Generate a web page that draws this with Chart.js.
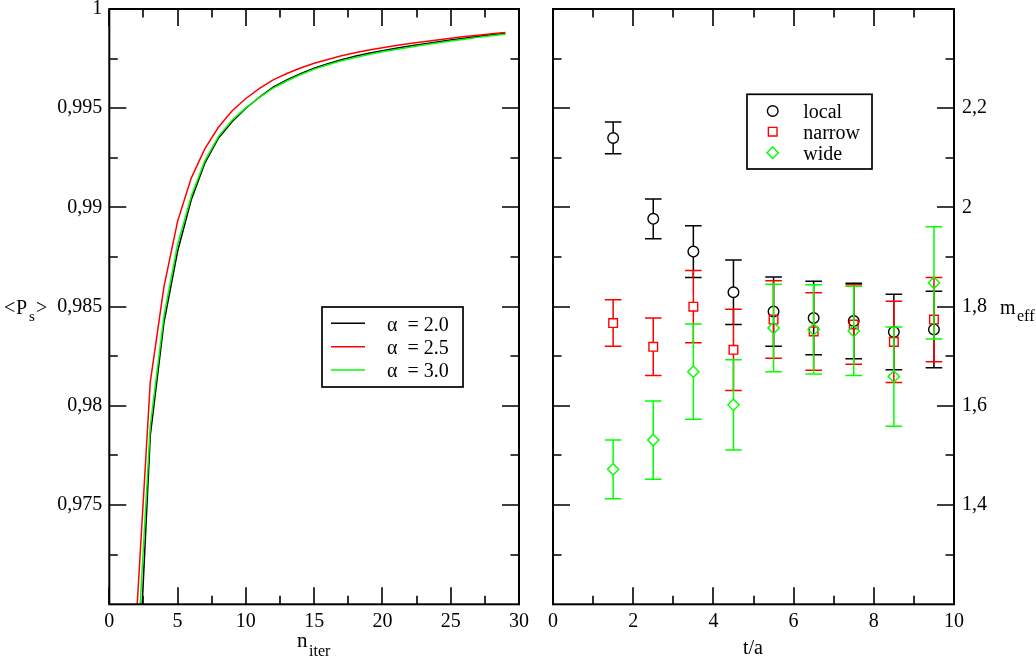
<!DOCTYPE html>
<html><head><meta charset="utf-8">
<script src="https://cdn.jsdelivr.net/npm/chart.js@4.4.1/dist/chart.umd.min.js"></script>
<style>
html,body{margin:0;padding:0;background:#fff;}
#wrap{position:relative;width:1036px;height:659px;background:#fff;}
canvas{position:absolute;left:0;top:0;}
</style></head><body>
<div id="wrap"><canvas id="c1" width="1036" height="659"></canvas><canvas id="c2" width="1036" height="659"></canvas></div>
<script>
// ---------- Left panel data ----------
const nIter   = [2,3,4,5,6,7,8,9,10,11,12,13,14,15,16,17,18,19,20,21,22,23,24,25,26,27,28,29];
const alpha20 = [0.9641,0.9785,0.98419,0.98779,0.99039,0.99224,0.99350,0.99433,0.99500,0.99556,0.99606,0.99642,0.99674,0.99702,0.99724,0.99744,0.99762,0.99777,0.99790,0.99802,0.99813,0.99824,0.99834,0.99844,0.99853,0.99862,0.99870,0.99878];
const alpha25 = [0.9695,0.9812,0.98600,0.98930,0.99148,0.99296,0.99405,0.99487,0.99549,0.99600,0.99643,0.99675,0.99703,0.99727,0.99746,0.99764,0.99779,0.99793,0.99805,0.99816,0.99826,0.99835,0.99844,0.99853,0.99861,0.99868,0.99875,0.99881];
const alpha30 = [0.9668,0.9790,0.98452,0.98813,0.99056,0.99236,0.99358,0.99441,0.99503,0.99555,0.99601,0.99637,0.99669,0.99697,0.99719,0.99739,0.99756,0.99771,0.99784,0.99796,0.99807,0.99818,0.99829,0.99839,0.99848,0.99857,0.99865,0.99873];
const alphaLabels = ['\u03B1  = 2.0','\u03B1  = 2.5','\u03B1  = 3.0'];

// ---------- Right panel data ----------
const tA        = [1.5,2.5,3.5,4.5,5.5,6.5,7.5,8.5,9.5];
const local     = [2.140,1.977,1.911,1.829,1.790,1.777,1.771,1.749,1.754];
const localErr  = [0.032,0.040,0.052,0.065,0.070,0.074,0.076,0.076,0.077];
const narrow    = [1.767,1.719,1.800,1.713,1.774,1.750,1.764,1.729,1.774];
const narrowErr = [0.047,0.058,0.073,0.082,0.078,0.078,0.080,0.082,0.085];
const wide      = [1.472,1.531,1.669,1.602,1.757,1.754,1.751,1.659,1.848];
const wideErr   = [0.059,0.079,0.096,0.091,0.088,0.090,0.090,0.100,0.113];
const smearLabels = ['local','narrow','wide'];

// ---------- Tick values ----------
const nTicks = [0,5,10,15,20,25,30];
const nMinor = [2.5,7.5,12.5,17.5,22.5,27.5];
const pTicks = [0.975,0.98,0.985,0.99,0.995,1];
const pMinor = [0.9725,0.9775,0.9825,0.9875,0.9925,0.9975];
const tTicks = [0,2,4,6,8,10];
const tMinor = [1,3,5,7,9];
const mTicks = [1.4,1.6,1.8,2.0,2.2];
const mMinor = [1.3,1.5,1.7,1.9,2.1,2.3];

const FONT = 'Liberation Serif';
Chart.defaults.font.family = FONT;
Chart.defaults.font.size = 20;
Chart.defaults.color = '#000';

const fmt = v => String(+(+v).toFixed(4)).replace('.', ',');
const pts = (xs, ys) => xs.map((x, i) => ({x, y: ys[i]}));

// frame + inward ticks
const framePlugin = {
  id: 'frame',
  afterDraw(chart, args, o) {
    const {ctx, chartArea: a, scales} = chart;
    const xs = scales.x, ys = scales.y;
    ctx.save();
    ctx.strokeStyle = '#000';
    ctx.lineWidth = 1.6;
    ctx.beginPath();
    [[o.xMajor, 17], [o.xMinor, 8.5]].forEach(([vals, len]) => vals.forEach(v => {
      const p = Math.round(xs.getPixelForValue(v));
      ctx.moveTo(p, a.bottom); ctx.lineTo(p, a.bottom - len);
      ctx.moveTo(p, a.top); ctx.lineTo(p, a.top + len);
    }));
    [[o.yMajor, 17], [o.yMinor, 8.5]].forEach(([vals, len]) => vals.forEach(v => {
      const p = Math.round(ys.getPixelForValue(v));
      ctx.moveTo(a.left, p); ctx.lineTo(a.left + len, p);
      ctx.moveTo(a.right, p); ctx.lineTo(a.right - len, p);
    }));
    ctx.stroke();
    ctx.lineWidth = 2;
    ctx.strokeRect(a.left, a.top, a.width, a.height);
    ctx.restore();
  }
};

// error bars (drawn before each dataset's markers)
const errPlugin = {
  id: 'errbars',
  beforeDatasetDraw(chart, args) {
    const ds = chart.data.datasets[args.index];
    if (!ds.errors) return;
    const {ctx, scales} = chart;
    const xs = scales.x, ys = scales.y;
    const gap = ds.pointStyle === 'rect' ? ds.pointRadius * Math.SQRT1_2 : ds.pointRadius;
    ctx.save();
    ctx.strokeStyle = ds.borderColor;
    ctx.lineWidth = 1.5;
    ctx.beginPath();
    ds.data.forEach((d, i) => {
      const e = ds.errors[i];
      const x = xs.getPixelForValue(d.x);
      const y = ys.getPixelForValue(d.y);
      const yt = ys.getPixelForValue(d.y + e);
      const yb = ys.getPixelForValue(d.y - e);
      if (yt < y - gap) { ctx.moveTo(x, yt); ctx.lineTo(x, y - gap); }
      if (yb > y + gap) { ctx.moveTo(x, y + gap); ctx.lineTo(x, yb); }
      ctx.moveTo(x - 8.3, yt); ctx.lineTo(x + 8.3, yt);
      ctx.moveTo(x - 8.3, yb); ctx.lineTo(x + 8.3, yb);
    });
    ctx.stroke();
    ctx.restore();
  }
};

// legend boxes and axis titles with subscripts
const decorPlugin = {
  id: 'decor',
  afterDraw(chart, args, o) {
    const ctx = chart.ctx;
    ctx.save();
    ctx.fillStyle = '#000';
    ctx.textBaseline = 'alphabetic';
    (o.titles || []).forEach(t => {
      ctx.font = t.size + 'px ' + FONT;
      ctx.textAlign = t.align || 'left';
      ctx.fillText(t.text, t.x, t.y);
    });
    const L = o.legend;
    if (L) {
      ctx.strokeStyle = '#000';
      ctx.lineWidth = 1.7;
      ctx.strokeRect(L.box[0], L.box[1], L.box[2] - L.box[0], L.box[3] - L.box[1]);
      ctx.font = '20px ' + FONT;
      ctx.textAlign = 'left';
      chart.data.datasets.forEach((ds, i) => {
        const y = L.rows[i];
        const sx = L.sample[0];
        ctx.strokeStyle = ds.borderColor;
        if (L.kind === 'line') {
          ctx.lineWidth = ds.borderWidth;
          ctx.beginPath(); ctx.moveTo(L.sample[0], y); ctx.lineTo(L.sample[1], y); ctx.stroke();
        } else {
          ctx.lineWidth = ds.pointBorderWidth;
          ctx.beginPath();
          const r = ds.pointRadius;
          if (ds.pointStyle === 'circle') ctx.arc(sx, y, r, 0, Math.PI * 2);
          else if (ds.pointStyle === 'rect') { const s = r * Math.SQRT1_2; ctx.rect(sx - s, y - s, 2 * s, 2 * s); }
          else { ctx.moveTo(sx - r, y); ctx.lineTo(sx, y - r); ctx.lineTo(sx + r, y); ctx.lineTo(sx, y + r); ctx.closePath(); }
          ctx.stroke();
        }
        ctx.fillStyle = '#000';
        ctx.fillText(ds.label, L.textX, y + 7.4);
      });
    }
    ctx.restore();
  }
};

function fixX(h) {
  return s => { s.height = h; s.paddingLeft = 0; s.paddingRight = 0; };
}
function fixY(w) {
  return s => { s.width = w; s.paddingTop = 0; s.paddingBottom = 0; };
}

// ---------- Left chart ----------
new Chart(document.getElementById('c1'), {
  type: 'scatter',
  data: {
    datasets: [
      {label: alphaLabels[0], data: pts(nIter, alpha20), borderColor: '#000000', borderWidth: 1.5, showLine: true, pointRadius: 0, fill: false, order: 3},
      {label: alphaLabels[1], data: pts(nIter, alpha25), borderColor: '#ff0000', borderWidth: 1.5, showLine: true, pointRadius: 0, fill: false, order: 2},
      {label: alphaLabels[2], data: pts(nIter, alpha30), borderColor: '#00ff00', borderWidth: 1.5, showLine: true, pointRadius: 0, fill: false, order: 1}
    ]
  },
  options: {
    responsive: false, animation: false,
    layout: {padding: {left: 0, top: 9, right: 517, bottom: 0}},
    plugins: {
      legend: {display: false}, tooltip: {enabled: false},
      frame: {xMajor: nTicks, xMinor: nMinor, yMajor: pTicks, yMinor: pMinor},
      decor: {
        titles: [
          {text: '<', x: 4, y: 314, size: 20},
          {text: 'P', x: 16, y: 314, size: 20},
          {text: 's', x: 29, y: 321, size: 15},
          {text: '>', x: 36, y: 314, size: 20},
          {text: 'n', x: 297, y: 647, size: 21},
          {text: 'iter', x: 309, y: 656, size: 16}
        ],
        legend: {kind: 'line', box: [322, 307, 463, 387], rows: [323.3, 346.7, 370], sample: [331, 365], textX: 387}
      }
    },
    scales: {
      x: {type: 'linear', min: 0, max: 30,
          grid: {display: false, drawTicks: false}, border: {display: false},
          afterBuildTicks: s => { s.ticks = nTicks.map(v => ({value: v})); },
          afterFit: fixX(659 - 604.3),
          ticks: {padding: 5, maxRotation: 0, autoSkip: false, callback: fmt}},
      y: {type: 'linear', min: 0.97, max: 1,
          grid: {display: false, drawTicks: false}, border: {display: false},
          afterBuildTicks: s => { s.ticks = pTicks.map(v => ({value: v})); },
          afterFit: fixY(109.3),
          ticks: {padding: 7, autoSkip: false, callback: fmt}}
    }
  },
  plugins: [framePlugin, decorPlugin]
});

// ---------- Right chart ----------
new Chart(document.getElementById('c2'), {
  type: 'scatter',
  data: {
    datasets: [
      {label: smearLabels[0], data: pts(tA, local), errors: localErr, borderColor: '#000000', pointBorderColor: '#000000', pointBackgroundColor: 'rgba(0,0,0,0)', pointStyle: 'circle', pointRadius: 5.3, pointBorderWidth: 1.4, showLine: false, order: 3},
      {label: smearLabels[1], data: pts(tA, narrow), errors: narrowErr, borderColor: '#ff0000', pointBorderColor: '#ff0000', pointBackgroundColor: 'rgba(0,0,0,0)', pointStyle: 'rect', pointRadius: 6.1, pointBorderWidth: 1.4, showLine: false, order: 2},
      {label: smearLabels[2], data: pts(tA, wide), errors: wideErr, borderColor: '#00ff00', pointBorderColor: '#00ff00', pointBackgroundColor: 'rgba(0,0,0,0)', pointStyle: 'rectRot', pointRadius: 5.7, pointBorderWidth: 1.4, showLine: false, order: 1}
    ]
  },
  options: {
    responsive: false, animation: false,
    layout: {padding: {left: 553, top: 9, right: 0, bottom: 0}},
    plugins: {
      legend: {display: false}, tooltip: {enabled: false},
      frame: {xMajor: tTicks, xMinor: tMinor, yMajor: mTicks, yMinor: mMinor},
      decor: {
        titles: [
          {text: 'm', x: 1000, y: 314, size: 20},
          {text: 'eff', x: 1017, y: 321, size: 16},
          {text: 't/a', x: 753, y: 654, size: 20, align: 'center'}
        ],
        legend: {kind: 'point', box: [747, 94.3, 872, 169], rows: [111, 131.7, 152.7], sample: [772.7], textX: 803.3}
      }
    },
    scales: {
      x: {type: 'linear', min: 0, max: 10,
          grid: {display: false, drawTicks: false}, border: {display: false},
          afterBuildTicks: s => { s.ticks = tTicks.map(v => ({value: v})); },
          afterFit: fixX(659 - 604.3),
          ticks: {padding: 5, maxRotation: 0, autoSkip: false, callback: fmt}},
      y: {type: 'linear', position: 'right', min: 1.2, max: 2.4,
          grid: {display: false, drawTicks: false}, border: {display: false},
          afterBuildTicks: s => { s.ticks = mTicks.map(v => ({value: v})); },
          afterFit: fixY(1036 - 954),
          ticks: {padding: 8, autoSkip: false, callback: fmt}}
    }
  },
  plugins: [framePlugin, errPlugin, decorPlugin]
});
</script>
</body></html>
